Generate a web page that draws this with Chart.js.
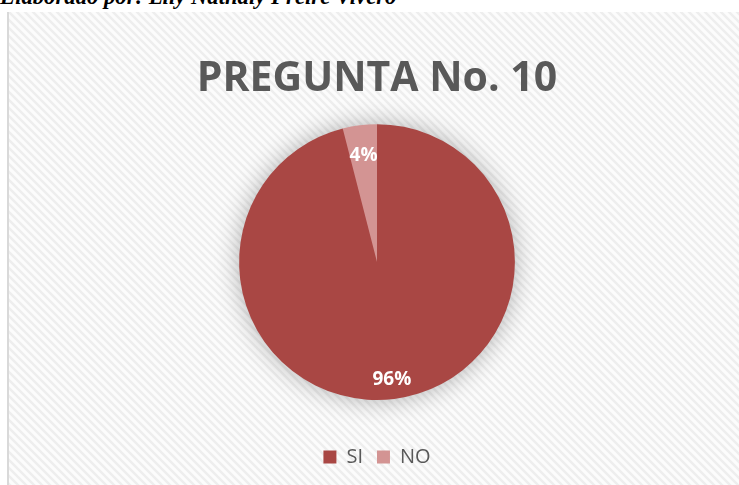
<!DOCTYPE html>
<html>
<head>
<meta charset="utf-8">
<script src="https://cdn.jsdelivr.net/npm/chart.js@4.4.0/dist/chart.umd.min.js"></script>
<style>
    body { margin: 0; background: #fff; width: 739px; height: 485px; overflow: hidden; position: relative; }
    #byline {
        position: absolute; left: 0; top: -16px;
        font-family: "Liberation Serif", serif; font-weight: bold; font-style: italic;
        font-size: 22.7px; color: #000; white-space: nowrap;
    }
    #box {
        position: absolute; left: 7px; top: 12px; width: 730px; height: 473px;
        border-left: 2px solid #d9d9d9;
    }
</style>
</head>
<body>
<div id="byline">Elaborado por: Lily Nathaly Freire Vivero</div>
<div id="box"><canvas id="PieGraph"></canvas></div>
<script>
let categories = ["SI", "NO"];
let percents = [96, 4];
let sliceColors = ["#a94744", "#d39493"];
let labelRadius = [0.86, 0.78];

function stripePattern(ctx) {
    let tile = document.createElement("canvas");
    tile.width = 8;
    tile.height = 8;
    let t = tile.getContext("2d");
    t.fillStyle = "#fcfcfc";
    t.fillRect(0, 0, 8, 8);
    t.strokeStyle = "#eeeeee";
    t.lineWidth = 2.5;
    t.beginPath();
    t.moveTo(-2, -2); t.lineTo(10, 10);
    t.moveTo(-6, 2); t.lineTo(2, 10);
    t.moveTo(6, -2); t.lineTo(10, 2);
    t.stroke();
    return ctx.createPattern(tile, "repeat");
}

let backgroundPlugin = {
    id: "stripedBackground",
    beforeDraw: function (chart) {
        let ctx = chart.ctx;
        ctx.save();
        ctx.fillStyle = stripePattern(ctx);
        ctx.fillRect(0, 0, chart.width, chart.height);
        ctx.restore();
    }
};

// empty box between the pie and the legend
let spacerPlugin = {
    id: "legendSpacer",
    beforeInit: function (chart) {
        Chart.layouts.addBox(chart, {
            position: "bottom",
            weight: 500,
            fullSize: true,
            options: {},
            isHorizontal: function () { return true; },
            update: function (maxWidth) {
                this.width = maxWidth;
                this.height = 33;
            },
            draw: function () {}
        });
    }
};

let shadowPlugin = {
    id: "pieShadow",
    beforeDatasetsDraw: function (chart) {
        let arc = chart.getDatasetMeta(0).data[0];
        let ctx = chart.ctx;
        ctx.save();
        ctx.shadowColor = "rgba(0,0,0,0.32)";
        ctx.shadowBlur = 26;
        ctx.fillStyle = "#a94744";
        ctx.beginPath();
        ctx.arc(arc.x, arc.y, arc.outerRadius - 1, 0, Math.PI * 2);
        ctx.fill();
        ctx.restore();
    }
};

let labelPlugin = {
    id: "pieLabels",
    afterDatasetsDraw: function (chart) {
        let ctx = chart.ctx;
        ctx.save();
        ctx.fillStyle = "#ffffff";
        ctx.font = "bold 19px 'Open Sans'";
        ctx.textAlign = "center";
        ctx.textBaseline = "middle";
        chart.getDatasetMeta(0).data.forEach(function (arc, i) {
            let mid = (arc.startAngle + arc.endAngle) / 2;
            let r = arc.outerRadius * labelRadius[i];
            ctx.fillText(percents[i] + "%", arc.x + Math.cos(mid) * r, arc.y + Math.sin(mid) * r);
        });
        ctx.restore();
    }
};

let pieContext = document.getElementById("PieGraph").getContext("2d");
let pieChart = new Chart(pieContext, {
    type: "pie",
    data: {
        labels: categories,
        datasets: [{
            data: percents,
            backgroundColor: sliceColors,
            borderWidth: 0
        }]
    },
    options: {
        responsive: true,
        maintainAspectRatio: false,
        animation: false,
        layout: { padding: { top: 43, bottom: 8, left: 6, right: 0 } },
        plugins: {
            tooltip: { enabled: false },
            title: {
                display: true,
                text: "PREGUNTA No. 10",
                color: "#595959",
                font: { family: "'Open Sans'", size: 41, weight: "bold" },
                padding: { top: 0, bottom: 20 }
            },
            legend: {
                position: "bottom",
                labels: {
                    color: "#595959",
                    font: { family: "'Open Sans'", size: 20 },
                    boxWidth: 13,
                    boxHeight: 13,
                    padding: 14
                }
            }
        }
    },
    plugins: [backgroundPlugin, spacerPlugin, shadowPlugin, labelPlugin]
});
</script>
</body>
</html>
